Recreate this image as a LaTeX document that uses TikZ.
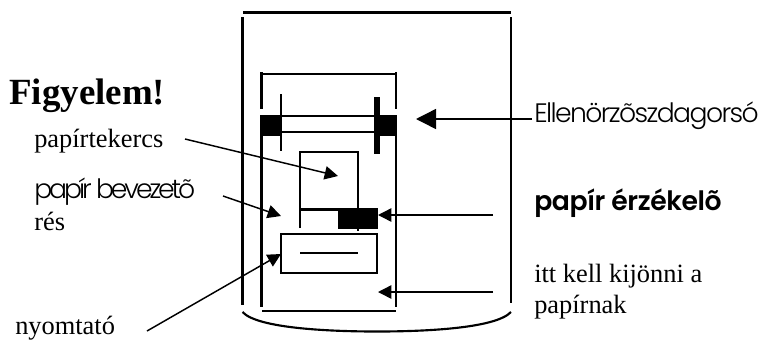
\documentclass[tikz,border=0pt]{standalone}
\usepackage{fontspec}
\setmainfont{Liberation Serif}
\newfontfamily\gothic[LetterSpace=-6]{Poppins Light}
\newfontfamily\gothicn[LetterSpace=-11.5]{Poppins Light}
\newfontfamily\gothicb[LetterSpace=-1.5]{Poppins SemiBold}
\usetikzlibrary{arrows.meta}
\tikzset{
  x=0.75pt,y=-0.75pt,
  frame/.style={line width=1.6pt,line cap=butt},
  ptr/.style={line width=1.1pt,-{Triangle[length=15pt,width=15pt]}},
  ptrs/.style={line width=1.1pt,-{Triangle[length=10pt,width=10pt]}},
  lbl/.style={inner sep=0pt,anchor=base west,font=\fontsize{19.8}{22}\selectfont,text=black},
  solid block/.style={fill=black,draw=none},
}
\begin{document}
\begin{tikzpicture}
\useasboundingbox (0,0) rectangle (762,340);
% outer housing
\draw[frame] (243,12.5) -- (511,12.5);
\draw[frame] (242.5,17) -- (242.5,305);
\draw[frame] (511,17) -- (511,303);
\draw[frame] (242.5,312) .. controls (258,329) and (335,331.5) .. (377,331.5) .. controls (420,331.5) and (495,329) .. (511,312);
% inner frame
\draw[frame] (261.5,74) -- (396,74);
\draw[frame] (261.5,72) -- (261.5,109);
\draw[frame] (396,72) -- (396,109);
\draw[frame] (261.5,115) -- (261.5,307);
\draw[frame] (396,115) -- (396,307);
\draw[frame] (262,311) -- (396,311);
% spool
\fill[solid block] (261,115) rectangle (281,136);
\fill[solid block] (378,115) rectangle (397,136);
\draw[frame] (281,116) -- (378,116);
\draw[frame] (281,132) -- (378,132);
\draw[line width=1.5pt] (281,94) -- (281,151);
\draw[line width=4pt] (377,97) -- (377,154);
% roll
\draw[frame] (300,228) -- (300,152) -- (358,152) -- (358,231);
\draw[frame] (300,209.5) -- (340,209.5);
\node[solid block,minimum width=30pt,minimum height=15.75pt,inner sep=0pt] (sensor) at (358,218.5) {};
% printer
\node[draw,line width=1.6pt,minimum width=71.5pt,minimum height=29pt,inner sep=0pt] (printer) at (329,253.5) {};
\draw[frame] (300,253) -- (358,253);
% left labels
\node[inner sep=0pt,anchor=base west,font=\bfseries\fontsize{27.7}{30}\selectfont] (figy) at (9,104) {Figyelem!};
\node[lbl] (tek) at (34,147) {papírtekercs};
\node[lbl,font=\gothicn\fontsize{20}{22}\selectfont] (bev) at (34,198) {papír bevezetõ};
\node[lbl] (res) at (34,230) {rés};
\node[lbl] (nyo) at (15,334) {nyomtató};
% right labels
\node[lbl,font=\gothic\fontsize{20}{22}\selectfont] (ell) at (534,122) {Ellenörzõszdagorsó};
\node[lbl,font=\gothicb\fontsize{20}{22}\selectfont] (pap) at (534,210) {papír érzékelõ};
\node[lbl] (itt) at (534,282) {itt kell kijönni a};
\node[lbl] (nak) at (534,313) {papírnak};
% pointers
\coordinate (a1s) at (532,119); \coordinate (a1e) at (416,119);
\draw[ptr] (a1s) -- (a1e);
\coordinate (a2s) at (493,215); \coordinate (a2e) at (378,215);
\draw[ptrs] (a2s) -- (a2e);
\coordinate (a3s) at (493,292); \coordinate (a3e) at (378,292);
\draw[ptrs] (a3s) -- (a3e);
\coordinate (a4s) at (185,139); \coordinate (a4e) at (338,176);
\draw[ptrs] (a4s) -- (a4e);
\coordinate (a5s) at (223,196); \coordinate (a5e) at (281,216);
\draw[ptrs] (a5s) -- (a5e);
\coordinate (a6s) at (147,331); \coordinate (a6e) at (281,254);
\draw[ptrs] (a6s) -- (a6e);
\end{tikzpicture}
\end{document}
